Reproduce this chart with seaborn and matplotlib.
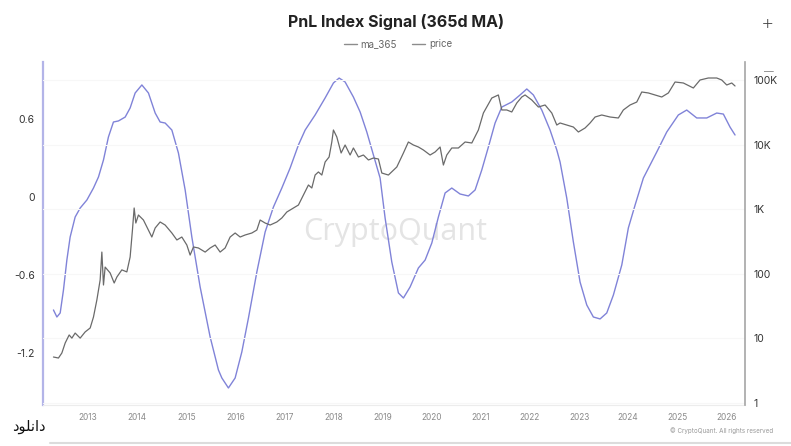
import matplotlib
matplotlib.use("Agg")
import matplotlib.pyplot as plt
import numpy as np
import pandas as pd
import seaborn as sns
from matplotlib.lines import Line2D
from matplotlib.ticker import FixedLocator, FixedFormatter, NullLocator

# ---------------- data ----------------
ma_years = [2012.293, 2012.363, 2012.430, 2012.497, 2012.566, 2012.633, 2012.735, 2012.837, 2012.974, 2013.108,
            2013.210, 2013.312, 2013.413, 2013.515, 2013.617, 2013.754, 2013.855, 2013.957, 2014.094, 2014.228,
            2014.365, 2014.466, 2014.568, 2014.705, 2014.839, 2014.976, 2015.112, 2015.281, 2015.485, 2015.654,
            2015.723, 2015.857, 2015.994, 2016.130, 2016.265, 2016.436, 2016.605, 2016.774, 2016.945, 2017.114,
            2017.283, 2017.420, 2017.623, 2017.827, 2017.996, 2018.112, 2018.234, 2018.403, 2018.540, 2018.676,
            2018.811, 2018.947, 2019.049, 2019.185, 2019.320, 2019.422, 2019.558, 2019.727, 2019.864, 2020.000,
            2020.134, 2020.271, 2020.407, 2020.576, 2020.745, 2020.882, 2021.018, 2021.153, 2021.289, 2021.426,
            2021.629, 2021.798, 2021.935, 2022.069, 2022.240, 2022.409, 2022.546, 2022.613, 2022.749, 2022.884,
            2023.020, 2023.157, 2023.291, 2023.428, 2023.564, 2023.699, 2023.870, 2024.004, 2024.141, 2024.310,
            2024.582, 2024.786, 2025.022, 2025.193, 2025.397, 2025.601, 2025.804, 2025.939, 2026.075, 2026.177]
ma_values = [-0.869, -0.923, -0.892, -0.715, -0.485, -0.308, -0.154, -0.085, -0.023, 0.069,
             0.154, 0.285, 0.462, 0.577, 0.585, 0.615, 0.685, 0.800, 0.862, 0.800,
             0.646, 0.577, 0.569, 0.515, 0.338, 0.054, -0.308, -0.692, -1.077, -1.331,
             -1.392, -1.469, -1.392, -1.192, -0.931, -0.577, -0.269, -0.077, 0.069, 0.223,
             0.400, 0.515, 0.631, 0.762, 0.877, 0.915, 0.885, 0.769, 0.654, 0.500,
             0.323, 0.146, -0.162, -0.500, -0.738, -0.777, -0.692, -0.546, -0.485, -0.354,
             -0.154, 0.031, 0.069, 0.023, 0.008, 0.054, 0.208, 0.385, 0.569, 0.692,
             0.731, 0.785, 0.831, 0.785, 0.669, 0.515, 0.362, 0.269, -0.008, -0.346,
             -0.654, -0.831, -0.923, -0.938, -0.892, -0.754, -0.523, -0.238, -0.062, 0.146,
             0.346, 0.500, 0.631, 0.669, 0.608, 0.608, 0.646, 0.638, 0.538, 0.477]

price_years = [2012.293, 2012.395, 2012.464, 2012.532, 2012.613, 2012.668, 2012.735, 2012.837, 2012.939, 2013.041,
               2013.108, 2013.177, 2013.244, 2013.279, 2013.312, 2013.346, 2013.448, 2013.530, 2013.585, 2013.686,
               2013.788, 2013.855, 2013.902, 2013.937, 2013.971, 2014.024, 2014.126, 2014.196, 2014.297, 2014.365,
               2014.466, 2014.568, 2014.705, 2014.807, 2014.908, 2015.010, 2015.077, 2015.145, 2015.246, 2015.383,
               2015.485, 2015.587, 2015.688, 2015.790,
               2015.892, 2015.994, 2016.096, 2016.198, 2016.334, 2016.436, 2016.503, 2016.605, 2016.707, 2016.843,
               2016.945, 2017.047, 2017.181, 2017.283, 2017.385, 2017.487, 2017.556, 2017.623, 2017.690, 2017.760,
               2017.827, 2017.908, 2017.963, 2017.996, 2018.065, 2018.153, 2018.234, 2018.336, 2018.403, 2018.505,
               2018.607, 2018.709, 2018.811, 2018.912, 2018.982, 2019.116,
               2019.287, 2019.422, 2019.523, 2019.625, 2019.727, 2019.829, 2019.965, 2020.067, 2020.169, 2020.236,
               2020.305, 2020.407, 2020.542, 2020.678, 2020.815, 2020.949, 2021.051, 2021.120, 2021.222, 2021.356,
               2021.426, 2021.527, 2021.629, 2021.731, 2021.833, 2021.900, 2022.037, 2022.171, 2022.308, 2022.444,
               2022.546,
               2022.613, 2022.749, 2022.884, 2022.986, 2023.122, 2023.224, 2023.326, 2023.462, 2023.631, 2023.800,
               2023.902, 2024.039, 2024.175, 2024.277, 2024.411, 2024.548, 2024.684, 2024.819, 2024.955, 2025.124,
               2025.328, 2025.464, 2025.633, 2025.804, 2025.906, 2026.008, 2026.110, 2026.177]
price_values = [5.15, 4.97, 5.94, 8.49, 11.3, 10.1, 12.1, 10.1, 12.6, 14.5,
                21.4, 39.3, 80.1, 217, 67.1, 127, 103, 72.0, 89.2, 115,
                107, 182, 476, 1044, 611, 813, 680, 530, 371, 512,
                634, 569, 428, 334, 371, 279, 195, 260, 251, 217,
                251, 279, 217, 251,
                371, 428, 371, 399, 428, 476, 680, 611, 569, 634,
                731, 905, 1044, 1161, 1660, 2370, 2130, 3380, 3770, 3380,
                5380, 6430, 10970, 16830, 13120, 7420, 9860, 6900, 8860, 6430,
                6900, 5780, 6200, 5990, 3630, 3380,
                4500, 7420, 10970, 9860, 9180, 8250, 6900, 7680, 9180, 4830,
                6900, 8860, 8860, 10970, 10590, 16830, 30840, 38180, 52600, 58650,
                34360, 34360, 31990, 44020, 54560, 58650, 49010, 38180, 41050, 30840,
                20100,
                21600, 20100, 18710, 15670, 18070, 21600, 26740, 28730, 26740, 25810,
                34360, 41050, 45600, 65200, 63000, 58650, 54560, 63000, 93100, 89900,
                75200, 100000, 107400, 107400, 100000, 83700, 89900, 80800]

year_ticks = list(range(2013, 2027))
left_ticks = [-1.2, -0.6, 0.0, 0.6]
left_labels = ["-1.2", "-0.6", "0", "0.6"]
right_ticks = [1, 10, 100, 1000, 10000, 100000]
right_labels = ["1", "10", "100", "1K", "10K", "100K"]

title_text = "PnL Index Signal (365d MA)"
# "دانلود" (download) written in contextual presentation forms, in visual order
download_text = "\uFEA9\uFEEE\uFEE0\uFEE7\uFE8D\uFEA9"

MA_COLOR = "#8083d8"
PRICE_COLOR = "#6a6a6a"

# ---------------- styling ----------------
sns.set_theme(style="white")
plt.rcParams['font.family'] = ['Inter', 'DejaVu Sans']

W, H = 791, 446
fig = plt.figure(figsize=(W / 100, H / 100), dpi=100)
fig.patch.set_facecolor("white")

L, R, T, B = 43, 745, 62, 405
ax = fig.add_axes([L / W, 1 - B / H, (R - L) / W, (B - T) / H])
ax2 = ax.twinx()

ma_df = pd.DataFrame({"date": ma_years, "ma_365": ma_values})
price_df = pd.DataFrame({"date": price_years, "price": price_values})

sns.lineplot(data=ma_df, x="date", y="ma_365", ax=ax, color=MA_COLOR,
             linewidth=1.0, legend=False)
sns.lineplot(data=price_df, x="date", y="price", ax=ax2, color=PRICE_COLOR,
             linewidth=0.9, legend=False)

ax2.set_yscale("log")
ax.set_xlim(2012.08, 2026.38)
ax.set_ylim(-1.6, 1.0385)
ax2.set_ylim(10 ** (-2 / 64.6), 10 ** (341 / 64.6))

for a in (ax, ax2):
    a.set_xlabel("")
    a.set_ylabel("")

ax.xaxis.set_major_locator(FixedLocator(year_ticks))
ax.xaxis.set_major_formatter(FixedFormatter([str(y) for y in year_ticks]))
ax.yaxis.set_major_locator(FixedLocator(left_ticks))
ax.yaxis.set_major_formatter(FixedFormatter(left_labels))
ax2.yaxis.set_major_locator(FixedLocator(right_ticks))
ax2.yaxis.set_major_formatter(FixedFormatter(right_labels))
ax2.yaxis.set_minor_locator(NullLocator())

ax.tick_params(axis="x", length=0, pad=6, labelsize=6, labelcolor="#8a8a8a")
ax.tick_params(axis="y", length=0, pad=6, labelsize=7.5, labelcolor="#333333")
ax2.tick_params(axis="y", length=0, pad=6, labelsize=7.5, labelcolor="#333333")

ax2.yaxis.grid(True, color="#f7f7f7", linewidth=0.8)
ax2.set_axisbelow(True)

for s in ["top", "right"]:
    ax.spines[s].set_visible(False)
ax.spines["left"].set_color("#b3b4e8")
ax.spines["left"].set_linewidth(1.6)
ax.spines["bottom"].set_color("#ececec")
ax.spines["bottom"].set_linewidth(0.8)
for s in ["top", "left", "bottom"]:
    ax2.spines[s].set_visible(False)
ax2.spines["right"].set_color("#a5a5a5")
ax2.spines["right"].set_linewidth(1.2)

# ---------------- texts ----------------
fig.text(396 / W, 1 - 22 / H, title_text, ha="center", va="center",
         fontsize=11.5, fontweight="bold", color="#222222")

handles = [Line2D([], [], color="#8c8c8c", lw=1.0),
           Line2D([], [], color="#8c8c8c", lw=1.0)]
fig.legend(handles, ["ma_365", "price"], loc="center",
           bbox_to_anchor=(398 / W, 1 - 44 / H), ncol=2, frameon=False,
           fontsize=7, handlelength=1.3, handletextpad=0.4,
           columnspacing=1.6, labelcolor="#666666")

ax.text(395 / W, 1 - 232 / H, "CryptoQuant", transform=fig.transFigure,
        ha="center", va="center", fontsize=22, color="#e4e4e4", zorder=0.5,
        family=["Open Sans", "DejaVu Sans"])

fig.text(773 / W, 1 - 431 / H, "\u00a9 CryptoQuant. All rights reserved",
         ha="right", va="center", fontsize=4.5, color="#9a9a9a")

fig.text(12 / W, 1 - 426 / H, download_text, ha="left", va="center",
         fontsize=10.5, color="#111111", family=["DejaVu Sans"])

fig.text(768 / W, 1 - 23 / H, "+", ha="center", va="center",
         fontsize=15, color="#444444", fontweight="light")
fig.text(769 / W, 1 - 72 / H, "\u2014", ha="center", va="center",
         fontsize=7, color="#8a8a8a")

fig.add_artist(Line2D([50 / W, 1.0], [1 - 443 / H, 1 - 443 / H],
                      transform=fig.transFigure, color="#dcdcdc", lw=1.5))

fig.savefig("out.png", dpi=100, facecolor="white")
